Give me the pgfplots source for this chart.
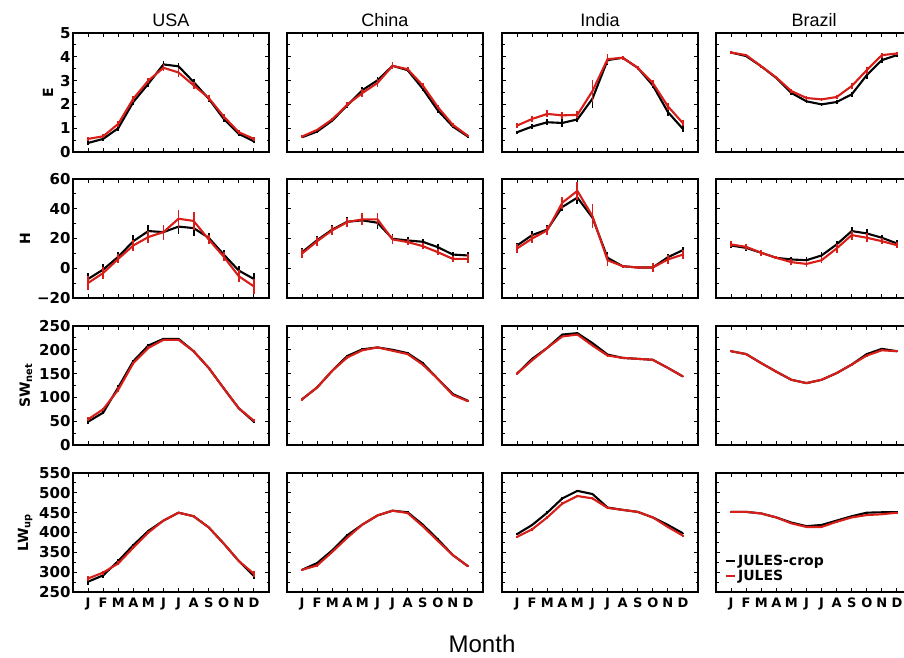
\documentclass[border=0pt]{standalone}
\usepackage{pgfplots}
\pgfplotsset{compat=1.18}
\usepackage{pgfplotstable}
\usepackage{fontspec}
\setmainfont{DejaVu Sans}
\newfontfamily\lsans{Liberation Sans}
\definecolor{jred}{RGB}{215,30,25}

% columns: m  b  be  r  re   (b = JULES-crop, r = JULES)
\pgfplotstableread{
m b be r re
1 0.38 0.08 0.55 0.08
2 0.55 0.08 0.66 0.08
3 1.00 0.10 1.18 0.12
4 2.10 0.12 2.24 0.12
5 2.87 0.12 3.00 0.12
6 3.68 0.15 3.54 0.15
7 3.60 0.15 3.34 0.20
8 2.94 0.12 2.80 0.15
9 2.24 0.12 2.27 0.12
10 1.39 0.12 1.49 0.12
11 0.76 0.08 0.83 0.08
12 0.45 0.08 0.55 0.08
}\EUSA
\pgfplotstableread{
m b be r re
1 0.62 0.05 0.65 0.05
2 0.86 0.05 0.93 0.05
3 1.32 0.07 1.37 0.07
4 1.96 0.10 1.99 0.10
5 2.60 0.12 2.48 0.15
6 3.01 0.15 2.90 0.18
7 3.62 0.12 3.62 0.15
8 3.44 0.08 3.48 0.08
9 2.66 0.10 2.80 0.10
10 1.75 0.10 1.89 0.10
11 1.07 0.07 1.14 0.07
12 0.65 0.05 0.68 0.05
}\EChina
\pgfplotstableread{
m b be r re
1 0.83 0.07 1.11 0.10
2 1.07 0.10 1.39 0.12
3 1.25 0.12 1.60 0.15
4 1.22 0.15 1.54 0.15
5 1.37 0.12 1.56 0.15
6 2.24 0.40 2.56 0.45
7 3.86 0.20 3.90 0.20
8 3.96 0.08 3.96 0.08
9 3.54 0.08 3.54 0.08
10 2.80 0.12 2.90 0.12
11 1.68 0.15 1.92 0.15
12 0.97 0.12 1.21 0.12
}\EIndia
\pgfplotstableread{
m b be r re
1 4.18 0.05 4.18 0.07
2 4.03 0.05 4.07 0.05
3 3.60 0.05 3.60 0.05
4 3.11 0.05 3.13 0.05
5 2.48 0.07 2.56 0.07
6 2.13 0.07 2.27 0.07
7 2.00 0.07 2.21 0.07
8 2.10 0.07 2.31 0.07
9 2.42 0.12 2.77 0.12
10 3.23 0.15 3.44 0.15
11 3.86 0.10 4.07 0.10
12 4.07 0.07 4.14 0.07
}\EBrazil

\pgfplotstableread{
m b be r re
1 -7.2 4 -9.9 5
2 -0.9 4 -3.2 4
3 7.7 3 6.3 3
4 18.2 4 15.3 4
5 25 4 21 4
6 24.3 4 24.3 5
7 28 5 33.3 6
8 27 5 31.8 6
9 20.5 3 19.4 3
10 9.2 3 7.7 3
11 -1.6 3 -5.4 4
12 -7.2 4 -12.2 5
}\HUSA
\pgfplotstableread{
m b be r re
1 10.8 3 9.9 3
2 18.9 3 18.2 3
3 26 3 25.5 3
4 31.3 3 31 3
5 32.2 3 32.9 4
6 30.6 4 32.9 4
7 19.8 3 19.4 3
8 18.7 2 17.6 2
9 17.8 2 14.9 2
10 14.2 2 10.8 2
11 9.2 2 6.3 2
12 8.6 2 6.3 3
}\HChina
\pgfplotstableread{
m b be r re
1 15.3 2 13.3 3
2 22.3 3 20 3
3 26 3 25.5 3
4 41.2 3 44.1 4
5 47.5 4 52 6
6 34 6 35 8
7 7 4 5.4 4
8 1.4 1 1.4 1
9 0.5 1 0.5 1
10 0.5 2 0.5 3
11 7.4 2 5.9 3
12 12.2 2 9.2 3
}\HIndia
\pgfplotstableread{
m b be r re
1 15.3 2 16 2
2 13.7 2 14.4 2
3 10.4 2 10.4 2
4 7 1 7 1
5 5.9 2 4.1 2
6 5.4 2 2.9 2
7 8.6 2 5.4 2
8 16 2 13.3 3
9 25 3 22.3 3
10 23.4 3 20.5 3
11 20.5 2 18.2 2
12 16.7 2 15.5 2
}\HBrazil

\pgfplotstableread{
m b be r re
1 49 4 54 4
2 68 3 75 3
3 121 5 116 5
4 176 3 172 3
5 209 3 204 3
6 223 2 221 2
7 223 2 221 2
8 197 2 197 2
9 162 2 162 2
10 119 2 119 2
11 77 2 77 2
12 49 3 51 3
}\SUSA
\pgfplotstableread{
m b be r re
1 96 3 96 3
2 121 3 121 3
3 156 2 156 2
4 187 3 184 3
5 201 2 199 2
6 205 2 205 2
7 200 2 198 2
8 193 2 191 2
9 172 2 169 2
10 139 2 139 2
11 107 2 105 2
12 93 2 92 2
}\SChina
\pgfplotstableread{
m b be r re
1 150 2 150 2
2 181 2 178 2
3 204 2 204 2
4 232 2 228 2
5 235 2 232 2
6 214 2 209 2
7 190 2 188 2
8 183 2 183 2
9 181 2 181 2
10 179 2 179 2
11 162 2 162 2
12 144 2 144 2
}\SIndia
\pgfplotstableread{
m b be r re
1 197 2 197 2
2 191 2 191 2
3 172 2 172 2
4 154 2 154 2
5 137 2 137 2
6 130 2 130 2
7 137 2 137 2
8 151 2 151 2
9 169 2 169 2
10 191 2 188 2
11 202 2 199 2
12 197 2 197 2
}\SBrazil

\pgfplotstableread{
m b be r re
1 276 8 284 7
2 292 6 299 5
3 328 5 322 5
4 368 4 362 4
5 404 3 400 3
6 430 2 430 2
7 450 2 450 2
8 441 2 441 2
9 413 2 413 2
10 372 2 372 2
11 328 3 328 3
12 290 7 296 7
}\LUSA
\pgfplotstableread{
m b be r re
1 306 2 306 2
2 323 3 317 3
3 355 2 351 2
4 393 2 387 2
5 420 2 420 2
6 443 2 443 2
7 455 2 455 2
8 451 2 449 2
9 420 2 416 2
10 383 2 379 2
11 343 2 343 2
12 315 2 315 2
}\LChina
\pgfplotstableread{
m b be r re
1 396 3 389 3
2 419 3 408 3
3 450 3 438 3
4 486 3 473 3
5 505 3 492 3
6 497 3 486 3
7 463 2 462 2
8 457 2 457 2
9 452 2 452 2
10 438 2 438 2
11 419 2 414 2
12 398 2 392 2
}\LIndia
\pgfplotstableread{
m b be r re
1 452 1 452 1
2 452 1 452 1
3 448 1 448 1
4 438 1 438 1
5 425 2 423 2
6 416 2 414 2
7 419 2 414 2
8 430 2 427 2
9 441 2 438 2
10 450 2 444 2
11 451 2 446 2
12 451 2 450 2
}\LBrazil

\pgfplotsset{
  pan/.style={
    scale only axis, width=196pt, height=119pt, anchor=south west,
    xmin=0, xmax=13, xtick={1,...,12}, xticklabels={},
    tick align=inside, major tick length=4pt, minor tick length=2.5pt,
    axis line style={line width=1.4pt}, every tick/.style={line width=1pt, black},
    tick label style={font=\bfseries\fontsize{15}{15}\selectfont},
    yticklabel style={xshift=1pt},
    ylabel style={font=\bfseries\fontsize{14}{14}\selectfont},
    xticklabel style={font=\bfseries\fontsize{13}{13}\selectfont, yshift=-2pt},
    yticklabels={},
    title style={font=\lsans\fontsize{18}{18}\selectfont, yshift=-3pt},
  },
  rowE/.style={ymin=0, ymax=5, ytick={0,...,5}, minor ytick={0.5,1.5,...,4.5}},
  rowH/.style={ymin=-20, ymax=60, ytick={-20,0,20,40,60}, minor ytick={-10,10,30,50}},
  rowS/.style={ymin=0, ymax=250, ytick={0,50,...,250}, minor ytick={25,75,...,225}},
  rowL/.style={ymin=250, ymax=550, ytick={250,300,...,550}, minor ytick={275,325,...,525}},
  bl/.style={black, line width=2.1pt, no markers,
    error bars/.cd, y dir=both, y explicit, error mark=none,
    error bar style={line width=1.8pt, black}},
  rd/.style={jred, line width=2.1pt, no markers,
    error bars/.cd, y dir=both, y explicit, error mark=none,
    error bar style={line width=1.8pt, jred}},
}
\newcommand\panel[4]{%
\begin{axis}[pan, at={(#1pt,#2pt)}, #3]
\addplot[bl] table[x=m, y=b, y error=be]{#4};
\addplot[rd] table[x=m, y=r, y error=re]{#4};
\end{axis}}

\begin{document}
\begin{tikzpicture}
\path[use as bounding box] (0pt,0pt) rectangle (904pt,657pt);
\clip (0pt,0pt) rectangle (904pt,657pt);
% row 1: E
\panel{73}{505}{rowE, title={USA}, ylabel={E}, yticklabels={0,1,2,3,4,5}}{\EUSA}
\panel{287}{505}{rowE, title={China}}{\EChina}
\panel{502}{505}{rowE, title={India}}{\EIndia}
\panel{716}{505}{rowE, title={Brazil}}{\EBrazil}
% row 2: H
\panel{73}{359}{rowH, ylabel={H}, yticklabels={−20,0,20,40,60}}{\HUSA}
\panel{287}{359}{rowH}{\HChina}
\panel{502}{359}{rowH}{\HIndia}
\panel{716}{359}{rowH}{\HBrazil}
% row 3: SW
\panel{73}{212}{rowS, ylabel={SW\textsubscript{net}}, yticklabels={0,50,100,150,200,250}}{\SUSA}
\panel{287}{212}{rowS}{\SChina}
\panel{502}{212}{rowS}{\SIndia}
\panel{716}{212}{rowS}{\SBrazil}
% row 4: LW
\panel{73}{65}{rowL, ylabel={LW\textsubscript{up}}, yticklabels={250,300,350,400,450,500,550},
  xticklabels={J,F,M,A,M,J,J,A,S,O,N,D}}{\LUSA}
\panel{287}{65}{rowL, xticklabels={J,F,M,A,M,J,J,A,S,O,N,D}}{\LChina}
\panel{502}{65}{rowL, xticklabels={J,F,M,A,M,J,J,A,S,O,N,D}}{\LIndia}
\panel{716}{65}{rowL, xticklabels={J,F,M,A,M,J,J,A,S,O,N,D},
  legend entries={JULES-crop,JULES}, legend cell align=left,
  legend style={draw=none, fill=none, at={(0.04,0.06)}, anchor=south west,
    font=\bfseries\fontsize{14}{14}\selectfont, row sep=-1pt, inner sep=1pt,
    /tikz/every even column/.append style={column sep=1pt}},
  legend image code/.code={\draw[#1, line width=2pt] (0pt,0pt) -- (9pt,0pt);}}{\LBrazil}
\node[font=\lsans\fontsize{24}{24}\selectfont] at (482pt,13pt) {Month};
\end{tikzpicture}
\end{document}
